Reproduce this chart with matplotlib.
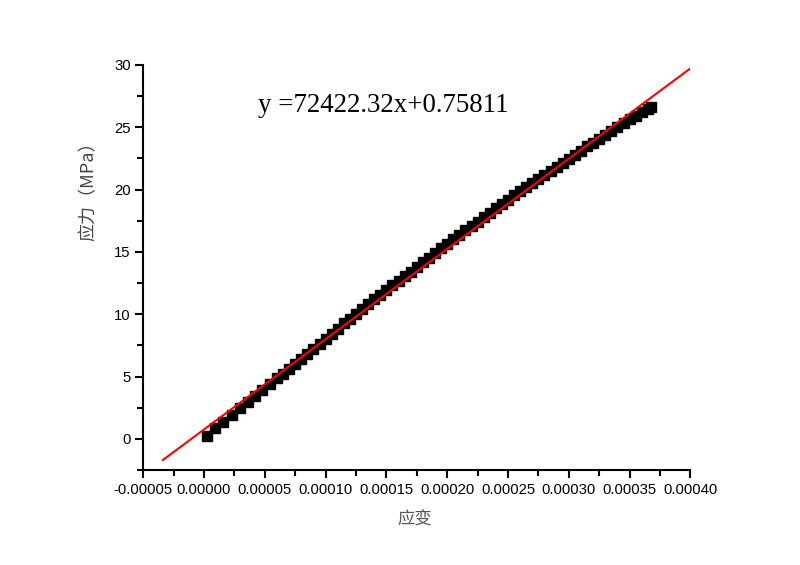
import numpy as np
import matplotlib.pyplot as plt
from matplotlib.ticker import MultipleLocator, FormatStrFormatter

# strain (x) and stress in MPa (y)
strain = [0.0000025, 0.0000090, 0.0000160, 0.0000230, 0.0000300, 0.0000360, 0.0000420,
          0.0000480, 0.0000540, 0.0000600, 0.0000650, 0.0000700, 0.0000750, 0.0000800,
          0.0000850, 0.0000900, 0.0000950, 0.0001000, 0.0001050, 0.0001100, 0.0001150,
          0.0001200, 0.0001250, 0.0001300, 0.0001350, 0.0001400, 0.0001450, 0.0001500,
          0.0001550, 0.0001600, 0.0001650, 0.0001700, 0.0001750, 0.0001800, 0.0001850,
          0.0001900, 0.0001950, 0.0002000, 0.0002050, 0.0002100, 0.0002150, 0.0002200,
          0.0002250, 0.0002300, 0.0002350, 0.0002400, 0.0002450, 0.0002500, 0.0002550,
          0.0002600, 0.0002650, 0.0002700, 0.0002750, 0.0002800, 0.0002850, 0.0002900,
          0.0002950, 0.0003000, 0.0003050, 0.0003100, 0.0003150, 0.0003200, 0.0003250,
          0.0003300, 0.0003350, 0.0003400, 0.0003450, 0.0003500, 0.0003550, 0.0003600,
          0.0003650, 0.0003680]
stress = [0.24, 0.86, 1.37, 1.93, 2.48, 2.96, 3.43,
          3.92, 4.39, 4.85, 5.24, 5.63, 6.02, 6.42,
          6.81, 7.21, 7.60, 8.02, 8.43, 8.85, 9.28,
          9.65, 10.02, 10.40, 10.80, 11.19, 11.56, 11.94,
          12.31, 12.69, 13.06, 13.43, 13.80, 14.17, 14.55,
          14.92, 15.29, 15.66, 16.02, 16.39, 16.75, 17.09,
          17.44, 17.80, 18.14, 18.49, 18.83, 19.18, 19.53,
          19.88, 20.20, 20.51, 20.85, 21.19, 21.50, 21.83,
          22.16, 22.49, 22.81, 23.13, 23.46, 23.78, 24.10,
          24.41, 24.72, 25.03, 25.33, 25.63, 25.93, 26.23,
          26.47, 26.61]

# linear fit shown on the chart
slope = 72422.32
intercept = 0.75811
fit_x = [-0.0000338, 0.0004]

fig = plt.figure(figsize=(8, 5.65), dpi=100)
ax = fig.add_axes([0.179, 0.168, 0.684, 0.717])

ax.plot(strain, stress, "s", color="black", markersize=6.5, zorder=2)
fit_y = [slope * v + intercept for v in fit_x]
ax.plot(fit_x, fit_y, "-", color="#ff0000", linewidth=1.5, zorder=3)

ax.set_xlim(-0.00005, 0.0004)
ax.set_ylim(-2.5, 30)
ax.xaxis.set_major_locator(MultipleLocator(0.00005))
ax.xaxis.set_minor_locator(MultipleLocator(0.000025))
ax.yaxis.set_major_locator(MultipleLocator(5))
ax.yaxis.set_minor_locator(MultipleLocator(2.5))
ax.xaxis.set_major_formatter(FormatStrFormatter("%.5f"))
ax.yaxis.set_major_formatter(FormatStrFormatter("%d"))

for s in ["top", "right"]:
    ax.spines[s].set_visible(False)
for s in ["left", "bottom"]:
    ax.spines[s].set_linewidth(1.5)
ax.tick_params(which="major", direction="out", length=6, width=1.5,
               labelsize=10.7, pad=3)
ax.tick_params(which="minor", direction="out", length=4, width=1.5)
for lab in ax.get_xticklabels() + ax.get_yticklabels():
    lab.set_family("Liberation Sans")

# labels
fig.text(415 / 800, 1 - 520 / 565, "应变", family=["Noto Sans CJK SC", "DejaVu Sans"],
         fontsize=12.5, color="#555555", ha="center", va="center")
fig.text(89 / 800, 1 - 187 / 565, "应力（MPa）", family=["Noto Sans CJK SC", "DejaVu Sans"],
         fontsize=13, color="#444444", ha="center", va="center", rotation=90)

ax.text(258 / 800, 1 - 105 / 565, "y =72422.32x+0.75811", transform=fig.transFigure,
        family="Liberation Serif", fontsize=19.4, ha="left", va="center")

fig.savefig("out.png", dpi=100)
